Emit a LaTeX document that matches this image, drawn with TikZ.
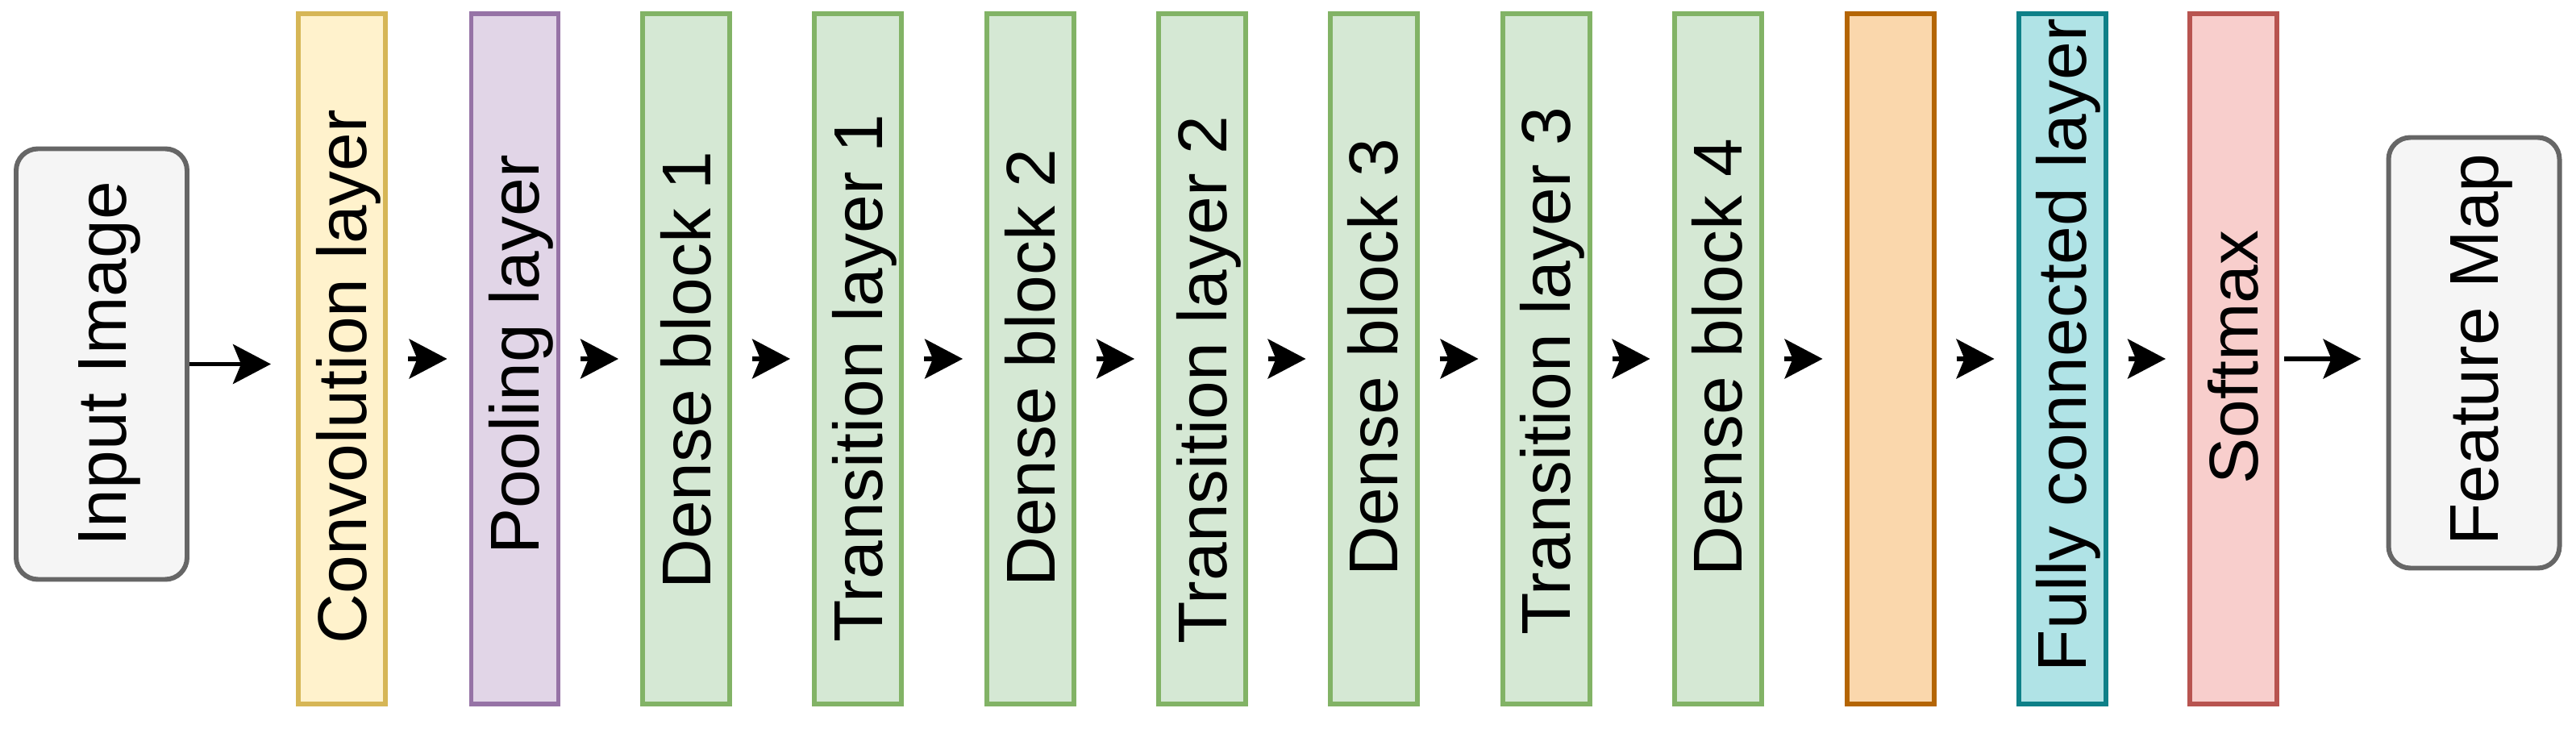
\documentclass[tikz,border=0pt]{standalone}
\usepackage{tikz}
\usepackage{xcolor}
\usepackage{fontspec}
\setmainfont{Liberation Sans}
\usetikzlibrary{arrows.meta}

\definecolor{convfill}{HTML}{FFF2CC}
\definecolor{convline}{HTML}{D6B656}
\definecolor{poolfill}{HTML}{E1D5E7}
\definecolor{poolline}{HTML}{9673A6}
\definecolor{densefill}{HTML}{D5E8D4}
\definecolor{denseline}{HTML}{82B366}
\definecolor{orangefill}{HTML}{FAD7AC}
\definecolor{orangeline}{HTML}{B46504}
\definecolor{fcfill}{HTML}{B0E3E6}
\definecolor{fcline}{HTML}{0E8088}
\definecolor{softfill}{HTML}{F8CECC}
\definecolor{softline}{HTML}{B85450}
\definecolor{greyfill}{HTML}{F5F5F5}
\definecolor{greyline}{HTML}{666666}

\begin{document}
\begin{tikzpicture}[
  layer/.style={draw, line width=1.7pt, minimum width=1.08cm, minimum height=8.56cm, inner sep=0pt},
  endbox/.style={draw=greyline, fill=greyfill, line width=1.7pt, rounded corners=0.27cm,
    minimum width=2.12cm, minimum height=5.34cm, inner sep=0pt},
  vtext/.style={rotate=90, inner sep=0pt, text height=0.8cm, text depth=0.2cm,
    font=\fontsize{24.4}{29}\selectfont},
  arr/.style={-{Stealth[length=0.47cm, width=0.49cm, inset=0.1cm]}, line width=1.6pt}
]
  % Fix the page size
  \useasboundingbox (0,0) rectangle (31.95,9.03);

  % Input and output boxes
  \node[endbox] (input) at (1.26,4.515) {};
  \node[vtext] (inputtxt) at (input.center) {Input Image};
  \node[endbox] (fmap) at (30.685,4.655) {};
  \node[vtext] (fmaptxt) at ([yshift=0.04cm]fmap.center) {Feature Map};

  % The layers
  \node[layer, draw=convline, fill=convfill] (conv) at (4.24,4.58) {};
  \node[vtext] (convtxt) at ([yshift=-0.22cm]conv.center) {Convolution layer};
  \node[layer, draw=poolline, fill=poolfill] (pool) at (6.385,4.58) {};
  \node[vtext] (pooltxt) at ([yshift=0.05cm]pool.center) {Pooling layer};
  \node[layer, draw=denseline, fill=densefill] (dense1) at (8.51,4.58) {};
  \node[vtext] (dense1txt) at ([yshift=-0.14cm]dense1.center) {Dense block 1};
  \node[layer, draw=denseline, fill=densefill] (trans1) at (10.64,4.58) {};
  \node[vtext] (trans1txt) at ([yshift=-0.24cm]trans1.center) {Transition layer 1};
  \node[layer, draw=denseline, fill=densefill] (dense2) at (12.78,4.58) {};
  \node[vtext] (dense2txt) at ([yshift=-0.11cm]dense2.center) {Dense block 2};
  \node[layer, draw=denseline, fill=densefill] (trans2) at (14.91,4.58) {};
  \node[vtext] (trans2txt) at ([yshift=-0.26cm]trans2.center) {Transition layer 2};
  \node[layer, draw=denseline, fill=densefill] (dense3) at (17.035,4.58) {};
  \node[vtext] (dense3txt) at ([yshift=0.02cm]dense3.center) {Dense block 3};
  \node[layer, draw=denseline, fill=densefill] (trans3) at (19.175,4.58) {};
  \node[vtext] (trans3txt) at ([yshift=-0.15cm]trans3.center) {Transition layer 3};
  \node[layer, draw=denseline, fill=densefill] (dense4) at (21.305,4.58) {};
  \node[vtext] (dense4txt) at ([yshift=0.02cm]dense4.center) {Dense block 4};
  \node[layer, draw=orangeline, fill=orangefill] (pool2) at (23.445,4.58) {};
  \node[layer, draw=fcline, fill=fcfill] (fc) at (25.575,4.58) {};
  \node[vtext] (fctxt) at ([yshift=0.17cm]fc.center) {Fully connected layer};
  \node[layer, draw=softline, fill=softfill] (soft) at (27.70,4.58) {};
  \node[vtext] (softtxt) at ([yshift=0.02cm]soft.center) {Softmax};

  % Arrows
  \draw[arr, shorten >=0.31cm] (input.east) -- (input.east -| conv.west);
  \draw[arr, shorten <=0.25cm, shorten >=0.27cm] (conv.east) -- (pool.west);
  \draw[arr, shorten <=0.25cm, shorten >=0.27cm] (pool.east) -- (dense1.west);
  \draw[arr, shorten <=0.25cm, shorten >=0.27cm] (dense1.east) -- (trans1.west);
  \draw[arr, shorten <=0.25cm, shorten >=0.27cm] (trans1.east) -- (dense2.west);
  \draw[arr, shorten <=0.25cm, shorten >=0.27cm] (dense2.east) -- (trans2.west);
  \draw[arr, shorten <=0.25cm, shorten >=0.27cm] (trans2.east) -- (dense3.west);
  \draw[arr, shorten <=0.25cm, shorten >=0.27cm] (dense3.east) -- (trans3.west);
  \draw[arr, shorten <=0.25cm, shorten >=0.27cm] (trans3.east) -- (dense4.west);
  \draw[arr, shorten <=0.25cm, shorten >=0.27cm] (dense4.east) -- (pool2.west);
  \draw[arr, shorten <=0.25cm, shorten >=0.27cm] (pool2.east) -- (fc.west);
  \draw[arr, shorten <=0.25cm, shorten >=0.27cm] (fc.east) -- (soft.west);
  \draw[arr, shorten <=0.06cm, shorten >=0.31cm] (soft.east) -- (soft.east -| fmap.west);
\end{tikzpicture}
\end{document}
